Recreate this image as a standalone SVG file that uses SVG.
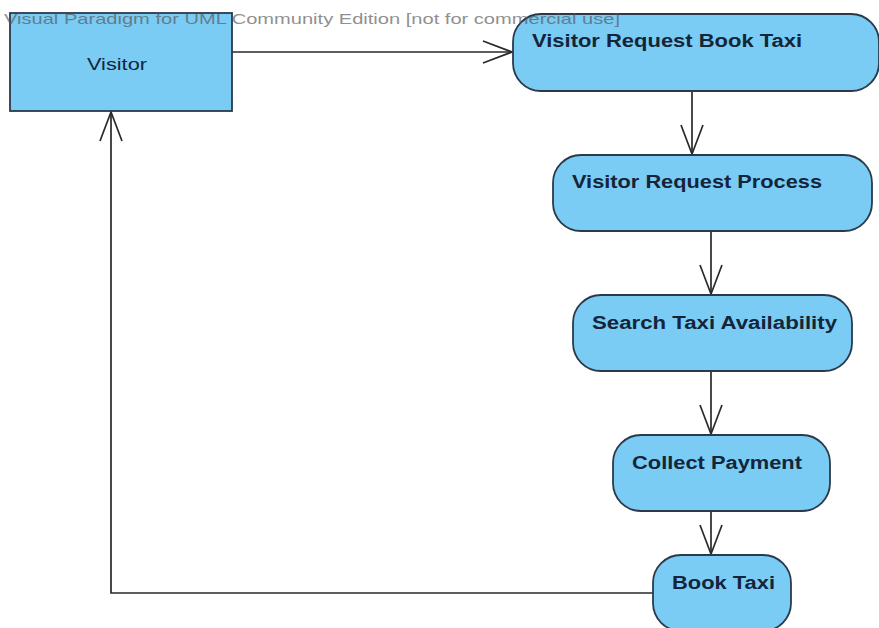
<svg xmlns="http://www.w3.org/2000/svg" width="879" height="628" viewBox="0 0 879 628">
<style>
.node{fill:#7accf4;stroke:#2b3a4a;stroke-width:1.8}
.lbl{font-family:"Liberation Sans",Arial,sans-serif;font-size:18px;font-weight:bold;fill:#14253a}
.edge{fill:none;stroke:#2a2a2a;stroke-width:1.7}
.wm{font-family:"Liberation Sans",Arial,sans-serif;font-size:15px;fill:#555;opacity:0.65}
</style>
<defs>
<marker id="open" viewBox="-32 -13 34 26" refX="0" refY="0" markerWidth="34" markerHeight="26" markerUnits="userSpaceOnUse" orient="auto">
<path d="M-29,-11 L0,0 L-29,11" fill="none" stroke="#2a2a2a" stroke-width="1.7"/>
</marker>
</defs>
<rect width="879" height="628" fill="#fff"/>
<g id="connectors">
<path class="edge" d="M232,52 L512,52" marker-end="url(#open)"/>
<path class="edge" d="M692,91 L692,154" marker-end="url(#open)"/>
<path class="edge" d="M711,231 L711,294" marker-end="url(#open)"/>
<path class="edge" d="M711,371 L711,434" marker-end="url(#open)"/>
<path class="edge" d="M711,511 L711,554" marker-end="url(#open)"/>
<path class="edge" d="M653,593 L111,593 L111,112" marker-end="url(#open)"/>
</g>
<g id="visitor">
<rect class="node" x="10" y="13" width="222" height="98"/>
<text x="87" y="70" textLength="60" lengthAdjust="spacingAndGlyphs" style="font-family:'Liberation Sans',Arial,sans-serif;font-size:17px;fill:#14253a">Visitor</text>
</g>
<g id="n1">
<rect class="node" x="513" y="14" width="366" height="77" rx="28" ry="28"/>
<text class="lbl" x="532" y="47" textLength="270" lengthAdjust="spacingAndGlyphs">Visitor Request Book Taxi</text>
</g>
<g id="n2">
<rect class="node" x="553" y="155" width="319" height="76" rx="28" ry="28"/>
<text class="lbl" x="572" y="188" textLength="250" lengthAdjust="spacingAndGlyphs">Visitor Request Process</text>
</g>
<g id="n3">
<rect class="node" x="573" y="295" width="279" height="76" rx="28" ry="28"/>
<text class="lbl" x="592" y="329" textLength="245" lengthAdjust="spacingAndGlyphs">Search Taxi Availability</text>
</g>
<g id="n4">
<rect class="node" x="613" y="435" width="217" height="76" rx="28" ry="28"/>
<text class="lbl" x="632" y="469" textLength="170" lengthAdjust="spacingAndGlyphs">Collect Payment</text>
</g>
<g id="n5">
<rect class="node" x="653" y="555" width="138" height="76" rx="28" ry="28"/>
<text class="lbl" x="672" y="589" textLength="103" lengthAdjust="spacingAndGlyphs">Book Taxi</text>
</g>
<text class="wm" x="4" y="24" textLength="616" lengthAdjust="spacingAndGlyphs">Visual Paradigm for UML Community Edition [not for commercial use]</text>
</svg>
